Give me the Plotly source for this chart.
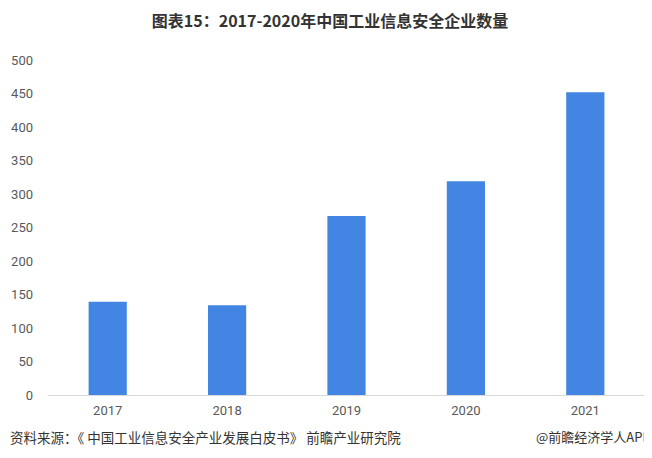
import plotly.graph_objects as go

years = ["2017", "2018", "2019", "2020", "2021"]
counts = [139, 134, 267, 319, 452]
y_ticks = [0, 50, 100, 150, 200, 250, 300, 350, 400, 450, 500]

title = "图表15：2017-2020年中国工业信息安全企业数量"
source = "资料来源：《 中国工业信息安全产业发展白皮书》 前瞻产业研究院"
credit = "@前瞻经济学人APP"

font_cn = "Noto Sans CJK SC"

fig = go.Figure(go.Bar(x=years, y=counts, marker_color="#4285E2", marker_line_width=0))

# the page body keeps its default 8px margin, so the figure is drawn 8px smaller
fig.update_layout(
    width=644, height=450,
    margin=dict(l=40, r=7, t=52, b=63, autoexpand=False),
    paper_bgcolor="white", plot_bgcolor="white",
    bargap=0.68,
    showlegend=False,
    font=dict(family=font_cn, size=13, color="#595959"),
    title=dict(text=f"<b>{title}</b>", x=0.5, xanchor="center", y=0.971, yanchor="middle",
               font=dict(family=font_cn, size=16, color="#333333")),
)
fig.update_xaxes(showline=True, linecolor="#d9d9d9", linewidth=1, ticks="", automargin=False,
                 ticklabelstandoff=3,
                 tickfont=dict(family="Roboto", size=13, color="#595959"))
fig.update_yaxes(range=[0, 500], tickvals=y_ticks, showgrid=False, zeroline=False,
                 showline=False, ticks="", ticklabelstandoff=14, automargin=False,
                 tickfont=dict(family="Roboto", size=13, color="#595959"))

fig.add_annotation(text=source, xref="paper", yref="paper", x=-0.067, xanchor="left",
                   y=-0.125, yanchor="middle", showarrow=False,
                   font=dict(family=font_cn, size=13.5, color="#333333"))
fig.add_annotation(text=credit, xref="paper", yref="paper", x=0.814, xanchor="left",
                   y=-0.125, yanchor="middle", showarrow=False,
                   font=dict(family=font_cn, size=13, color="#333333"))

fig.write_html("out.html")
